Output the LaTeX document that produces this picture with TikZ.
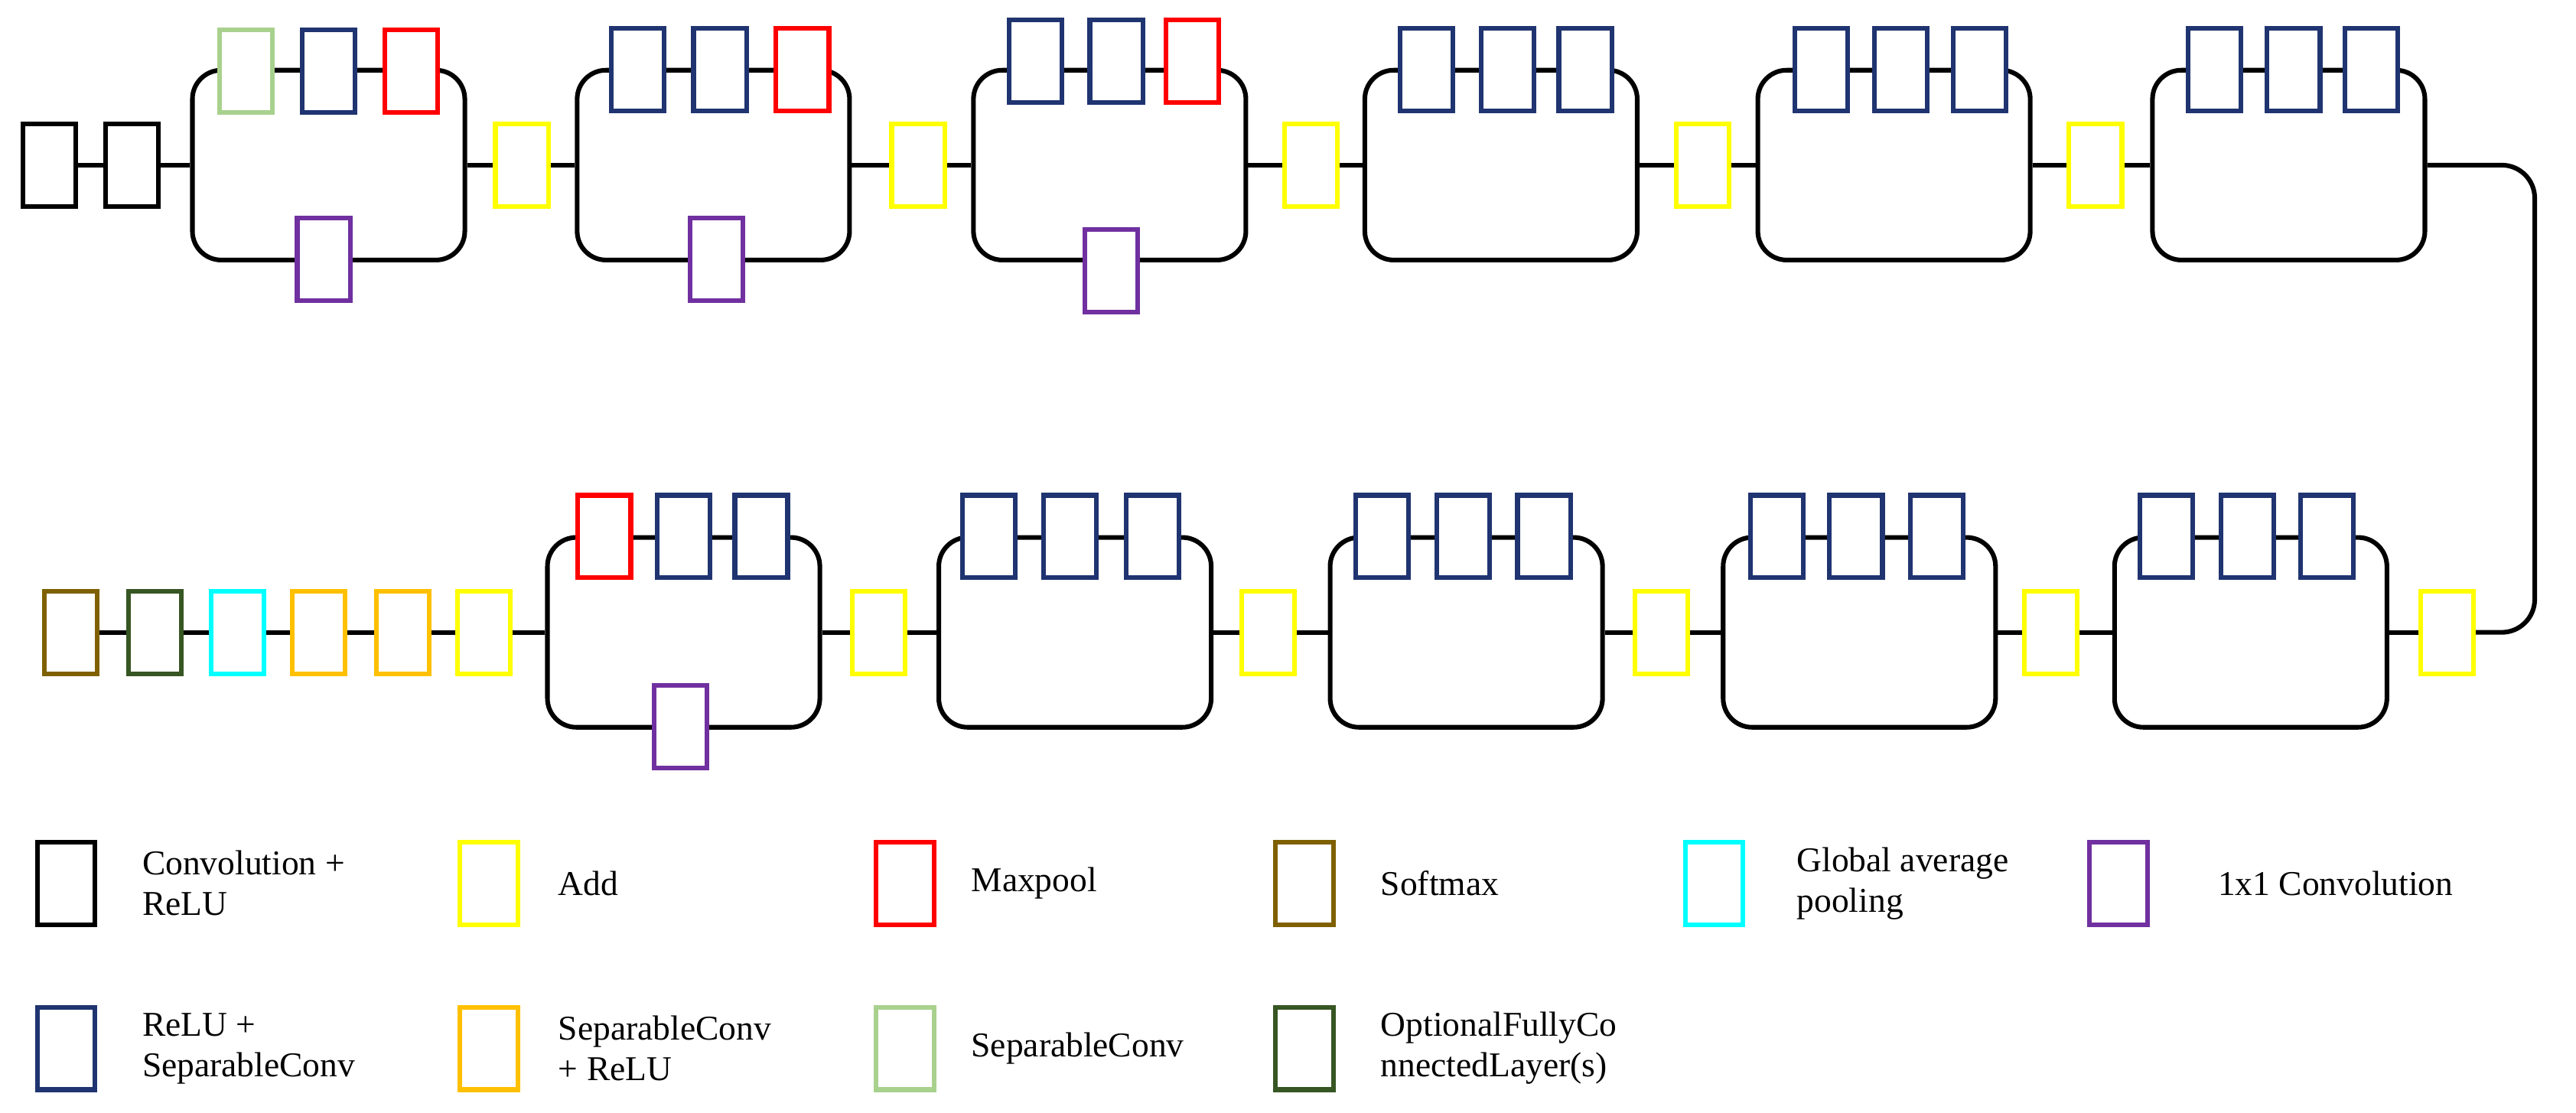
\documentclass[tikz,border=0pt]{standalone}
\usepackage{fontspec}
\setmainfont{Liberation Serif}
\definecolor{cnavy}{HTML}{1F3470}
\definecolor{cred}{HTML}{FF0000}
\definecolor{cyel}{HTML}{FFFF00}
\definecolor{clg}{HTML}{A9D18E}
\definecolor{cpur}{HTML}{7030A0}
\definecolor{cora}{HTML}{FFC000}
\definecolor{ccy}{HTML}{00FFFF}
\definecolor{cdg}{HTML}{375623}
\definecolor{cbr}{HTML}{7F6000}
\begin{document}
\begin{tikzpicture}[x=0.02cm,y=-0.02cm,
  bx/.style={draw=#1,fill=white,line width=1.6pt,minimum width=0.64cm,minimum height=1cm,inner sep=0pt},
  lg/.style={draw=#1,fill=white,line width=1.6pt,minimum width=0.7cm,minimum height=1cm,inner sep=0pt},
  md/.style={draw=black,line width=1.6pt,rounded corners=0.35cm,minimum width=3.3cm,minimum height=2.3cm,inner sep=0pt},
  ln/.style={line width=1.6pt},
  lt/.style={anchor=west,align=left,font=\fontsize{12}{14}\selectfont}]
\useasboundingbox (0,0) rectangle (1560,674);
% ---- top row
\node[bx=black] (c1) at (30,100) {};
\node[bx=black] (c2) at (80,100) {};
\node[md] (m1) at (199,100) {};
\node[md] (m2) at (432,100) {};
\node[md] (m3) at (672,100) {};
\node[md] (m4) at (909,100) {};
\node[md] (m5) at (1147,100) {};
\node[md] (m6) at (1386,100) {};
\node[bx=cyel] (a1) at (316,100) {};
\node[bx=cyel] (a2) at (556,100) {};
\node[bx=cyel] (a3) at (794,100) {};
\node[bx=cyel] (a4) at (1031,100) {};
\node[bx=cyel] (a5) at (1269,100) {};
\draw[ln] (c1)--(c2)--(m1.west) (m1.east)--(a1)--(m2.west) (m2.east)--(a2)--(m3.west)
  (m3.east)--(a3)--(m4.west) (m4.east)--(a4)--(m5.west) (m5.east)--(a5)--(m6.west);
\node[bx=clg] (t11) at (149,43) {};
\node[bx=cnavy] (t12) at (199,43) {};
\node[bx=cred] (t13) at (249,43) {};
\node[bx=cpur] (p1) at (196,157) {};
\node[bx=cnavy] (t21) at (386,42) {};
\node[bx=cnavy] (t22) at (436,42) {};
\node[bx=cred] (t23) at (486,42) {};
\node[bx=cpur] (p2) at (434,157) {};
\node[bx=cnavy] (t31) at (627,37) {};
\node[bx=cnavy] (t32) at (676,37) {};
\node[bx=cred] (t33) at (722,37) {};
\node[bx=cpur] (p3) at (673,164) {};
\node[bx=cnavy] (t41) at (864,42) {};
\node[bx=cnavy] (t42) at (913,42) {};
\node[bx=cnavy] (t43) at (960,42) {};
\node[bx=cnavy] (t51) at (1103,42) {};
\node[bx=cnavy] (t52) at (1151,42) {};
\node[bx=cnavy] (t53) at (1199,42) {};
\node[bx=cnavy] (t61) at (1341,42) {};
\node[bx=cnavy] (t62) at (1389,42) {};
\node[bx=cnavy] (t63) at (1436,42) {};
% ---- bottom row
\node[md] (n1) at (1363,383) {};
\node[md] (n2) at (1126,383) {};
\node[md] (n3) at (888,383) {};
\node[md] (n4) at (651,383) {};
\node[md] (n5) at (414,383) {};
\node[bx=cyel] (b0) at (1482,383) {};
\node[bx=cyel] (b1) at (1242,383) {};
\node[bx=cyel] (b2) at (1006,383) {};
\node[bx=cyel] (b3) at (768,383) {};
\node[bx=cyel] (b4) at (532,383) {};
\node[bx=cyel] (b5) at (293,383) {};
\node[bx=cora] (o1) at (244,383) {};
\node[bx=cora] (o2) at (193,383) {};
\node[bx=ccy] (g1) at (144,383) {};
\node[bx=cdg] (f1) at (94,383) {};
\node[bx=cbr] (s1) at (43,383) {};
\coordinate (turn) at (1535,100);
\draw[ln,rounded corners=0.4cm] (m6.east)--(turn)--(turn |- b0)--(b0.east);
\draw[ln] (b0)--(n1.east) (n1.west)--(b1)--(n2.east) (n2.west)--(b2)--(n3.east)
  (n3.west)--(b3)--(n4.east) (n4.west)--(b4)--(n5.east) (n5.west)--(b5)--(o1)--(o2)--(g1)--(f1)--(s1);
\node[bx=cnavy] (u11) at (1312,325) {};
\node[bx=cnavy] (u12) at (1361,325) {};
\node[bx=cnavy] (u13) at (1409,325) {};
\node[bx=cnavy] (u21) at (1076,325) {};
\node[bx=cnavy] (u22) at (1124,325) {};
\node[bx=cnavy] (u23) at (1173,325) {};
\node[bx=cnavy] (u31) at (837,325) {};
\node[bx=cnavy] (u32) at (886,325) {};
\node[bx=cnavy] (u33) at (935,325) {};
\node[bx=cnavy] (u41) at (599,325) {};
\node[bx=cnavy] (u42) at (648,325) {};
\node[bx=cnavy] (u43) at (698,325) {};
\node[bx=cred] (u51) at (366,325) {};
\node[bx=cnavy] (u52) at (414,325) {};
\node[bx=cnavy] (u53) at (461,325) {};
\node[bx=cpur] (p5) at (412,440) {};
% ---- legend
\node[lg=black] (l1) at (40,535) {};
\node[lt] at (80,535) {Convolution +\\ReLU};
\node[lg=cyel] (l2) at (296,535) {};
\node[lt] at (332,535) {Add};
\node[lg=cred] (l3) at (548,535) {};
\node[lt] at (582,535) {Maxpool};
\node[lg=cbr] (l4) at (790,535) {};
\node[lt] at (830,535) {Softmax};
\node[lg=ccy] (l5) at (1038,535) {};
\node[lt] at (1082,535) {Global average\\pooling};
\node[lg=cpur] (l6) at (1283,535) {};
\node[lt] at (1337,535) {1x1 Convolution};
\node[lg=cnavy] (l7) at (40,635) {};
\node[lt] at (80,635) {ReLU +\\SeparableConv};
\node[lg=cora] (l8) at (296,635) {};
\node[lt] at (332,635) {SeparableConv\\+ ReLU};
\node[lg=clg] (l9) at (548,635) {};
\node[lt] at (582,635) {SeparableConv};
\node[lg=cdg] (l10) at (790,635) {};
\node[lt] at (830,635) {OptionalFullyCo\\nnectedLayer(s)};
\end{tikzpicture}
\end{document}
